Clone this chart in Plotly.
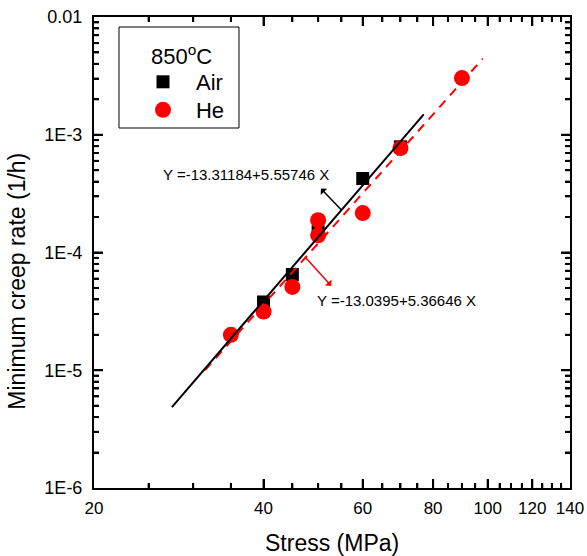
import numpy as np
import plotly.graph_objects as go

# Minimum creep rate vs. stress at 850 C
air_stress = [40, 45, 50, 60, 70]
air_rate = [3.8e-5, 6.5e-5, 1.5e-4, 4.25e-4, 7.9e-4]

he_stress = [35, 40, 45, 50, 50, 60, 70, 90]
he_rate = [2.0e-5, 3.15e-5, 5.1e-5, 1.88e-4, 1.4e-4, 2.16e-4, 7.7e-4, 3.03e-3]

# log10(rate) = a + b * log10(stress)
air_fit = (-13.31184, 5.55746)
he_fit = (-13.0395, 5.36646)
air_fit_span = (27.5, 77.0)
he_fit_span = (31.5, 98.0)

x_major = [20, 40, 60, 80, 100, 120, 140]
x_minor = [25, 30, 35, 45, 50, 55, 65, 70, 75, 85, 90, 95, 105, 110, 115, 125, 130, 135]
y_major = [1e-6, 1e-5, 1e-4, 1e-3, 1e-2]
y_major_text = ["1E-6", "1E-5", "1E-4", "1E-3", "0.01"]
y_minor = [m * 10.0 ** e for e in range(-6, -2) for m in range(2, 10)]

FONT = "Arial, Liberation Sans, sans-serif"
X_RANGE = [np.log10(20), np.log10(140)]
Y_RANGE = [-6, -2]
PLOT_W, PLOT_H = 476, 471
X_PX_PER_DEC = PLOT_W / (X_RANGE[1] - X_RANGE[0])
Y_PX_PER_DEC = PLOT_H / (Y_RANGE[1] - Y_RANGE[0])


def fit_curve(coef, span):
    s = np.logspace(np.log10(span[0]), np.log10(span[1]), 50)
    return s, 10 ** (coef[0] + coef[1] * np.log10(s))


def on_fit(coef, s):
    return coef[0] + coef[1] * np.log10(s)


def tick_trace(xvals, yvals, length):
    """Inward tick marks on all four sides of the frame as one line trace."""
    x0, x1 = 10 ** X_RANGE[0], 10 ** X_RANGE[1]
    y0, y1 = 10.0 ** Y_RANGE[0], 10.0 ** Y_RANGE[1]
    ky = 10 ** (length / Y_PX_PER_DEC)
    kx = 10 ** (length / X_PX_PER_DEC)
    xs, ys = [], []
    for v in xvals:
        xs += [v, v, None, v, v, None]
        ys += [y0, y0 * ky, None, y1, y1 / ky, None]
    for v in yvals:
        xs += [x0, x0 * kx, None, x1, x1 / kx, None]
        ys += [v, v, None, v, v, None]
    return go.Scatter(x=xs, y=ys, mode="lines", showlegend=False, hoverinfo="skip",
                      cliponaxis=False, line=dict(color="black", width=2, simplify=False))


fig = go.Figure()
fig.add_trace(tick_trace(x_major[1:-1], y_major[1:-1], 9))
fig.add_trace(tick_trace(x_minor, y_minor, 5))
fig.add_trace(go.Scatter(
    x=air_stress, y=air_rate, mode="markers", name="Air", legend="legend",
    marker=dict(symbol="square", size=13, color="black"),
))
fig.add_trace(go.Scatter(
    x=he_stress, y=he_rate, mode="markers", name="He", legend="legend2",
    marker=dict(symbol="circle", size=16, color="#ff0000"),
))
sx, sy = fit_curve(he_fit, he_fit_span)
fig.add_trace(go.Scatter(
    x=sx, y=sy, mode="lines", showlegend=False,
    line=dict(color="#ff0000", width=2, dash="9px,7px"),
))
sx, sy = fit_curve(air_fit, air_fit_span)
fig.add_trace(go.Scatter(
    x=sx, y=sy, mode="lines", showlegend=False,
    line=dict(color="black", width=2),
))

annotations = [
    dict(x=np.log10(37.3), y=-3.334, xref="x", yref="y", showarrow=False,
         text="Y =-13.31184+5.55746 X", font=dict(size=15, color="black", family=FONT)),
    dict(x=np.log10(68.8), y=-4.404, xref="x", yref="y", showarrow=False,
         text="Y =-13.0395+5.36646 X", font=dict(size=15, color="black", family=FONT)),
    dict(x=np.log10(55), y=on_fit(air_fit, 55), xref="x", yref="y", text="",
         showarrow=True, arrowside="start", arrowhead=2, arrowsize=1.6, arrowwidth=1.5,
         arrowcolor="black", ax=-22, ay=-23, standoff=0, startstandoff=0),
    dict(x=np.log10(47.5), y=on_fit(he_fit, 47.5), xref="x", yref="y", text="",
         showarrow=True, arrowside="start", arrowhead=2, arrowsize=1.6, arrowwidth=1.5,
         arrowcolor="#ff0000", ax=27, ay=30, standoff=0, startstandoff=0),
    # legend heading and axis titles
    dict(x=0.1828, y=0.9193, xref="paper", yref="paper", showarrow=False,
         xanchor="center", yanchor="middle",
         text="850<sup>o</sup>C", font=dict(size=22, color="black", family=FONT)),
    dict(x=0.5, y=-0.117, xref="paper", yref="paper", showarrow=False,
         xanchor="center", yanchor="middle",
         text="Stress (MPa)", font=dict(size=23, color="black", family=FONT)),
    dict(x=-0.162, y=0.44, xref="paper", yref="paper", showarrow=False, textangle=-90,
         xanchor="center", yanchor="middle",
         text="Minimum creep rate (1/h)", font=dict(size=23, color="black", family=FONT)),
]

shapes = [dict(
    type="rect", xref="paper", yref="paper",
    x0=0.0525, x1=0.3046, y0=0.7643, y1=0.9788,
    line=dict(color="black", width=1), fillcolor="rgba(0,0,0,0)",
)]

base = dict(showline=True, linecolor="black", linewidth=2, mirror="allticks",
            ticks="inside", ticklen=9, tickwidth=2, tickcolor="black",
            showgrid=False, zeroline=False, automargin=False)

fig.update_layout(
    width=587, height=556,
    margin=dict(l=94, r=17, t=17, b=68, autoexpand=False),
    plot_bgcolor="white", paper_bgcolor="white",
    font=dict(family=FONT, color="black"),
    xaxis=dict(
        type="log", range=X_RANGE,
        tickmode="array", tickvals=x_major, ticktext=[str(v) for v in x_major],
        minor=dict(tickvals=x_minor, ticks="inside", ticklen=5, tickwidth=2, tickcolor="black"),
        tickfont=dict(size=17, color="black", family=FONT), ticklabelstandoff=4,
        **base,
    ),
    yaxis=dict(
        type="log", range=Y_RANGE,
        tickmode="array", tickvals=y_major, ticktext=y_major_text,
        minor=dict(tickvals=y_minor, ticks="inside", ticklen=5, tickwidth=2, tickcolor="black"),
        tickfont=dict(size=18, color="black", family=FONT), ticklabelstandoff=6,
        **base,
    ),
    legend=dict(
        x=0.0756, y=0.862, xanchor="left", yanchor="middle",
        borderwidth=0, bgcolor="rgba(0,0,0,0)", itemwidth=56,
        font=dict(size=22, family=FONT, color="black"),
    ),
    legend2=dict(
        x=0.0756, y=0.8025, xanchor="left", yanchor="middle",
        borderwidth=0, bgcolor="rgba(0,0,0,0)", itemwidth=56,
        font=dict(size=22, family=FONT, color="black"),
    ),
    shapes=shapes,
    annotations=annotations,
)

fig.write_html("out.html")
